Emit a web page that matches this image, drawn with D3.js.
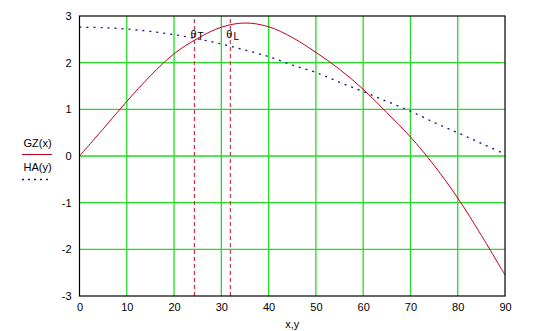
<!DOCTYPE html>
<html>
<head>
<meta charset="utf-8">
<script src="https://cdn.jsdelivr.net/npm/d3@7"></script>
<style>
  body { margin: 0; background: #fff; }
  svg { display: block; font-family: "Liberation Sans", Arial, sans-serif; }
</style>
</head>
<body>
<svg id="chart"></svg>
<script>
// angles (deg) and the two curves
const angles = [0, 5, 10, 15, 20, 25, 30, 35, 40, 45, 50, 55, 60, 65, 70, 75, 80, 85, 90];
const gz = [0, 0.58, 1.17, 1.72, 2.19, 2.52, 2.76, 2.85, 2.77, 2.54, 2.22, 1.86, 1.43, 0.93, 0.41, -0.20, -0.90, -1.70, -2.55];
const ha = [2.76, 2.75, 2.72, 2.67, 2.60, 2.51, 2.40, 2.27, 2.13, 1.95, 1.79, 1.58, 1.38, 1.17, 0.96, 0.72, 0.50, 0.27, 0.04];
const markers = [24.3, 31.9];
const markerLabels = [["θ", "T"], ["θ", "L"]];
const xTicks = [0, 10, 20, 30, 40, 50, 60, 70, 80, 90];
const yTicks = [-3, -2, -1, 0, 1, 2, 3];

const width = 534;
const height = 331;
const margin = { top: 16, right: 29, bottom: 35, left: 79.5 };

const svg = d3.select("#chart")
    .attr("width", width)
    .attr("height", height);

const xScale = d3.scaleLinear()
    .domain([0, 90])
    .range([margin.left, width - margin.right]);

const yScale = d3.scaleLinear()
    .domain([-3, 3])
    .range([height - margin.bottom, margin.top]);

// green grid
svg.append("g")
    .selectAll("line")
    .data(xTicks.slice(1, -1))
    .join("line")
    .attr("x1", d => xScale(d)).attr("x2", d => xScale(d))
    .attr("y1", yScale(-3)).attr("y2", yScale(3))
    .attr("stroke", "#22dd22")
    .attr("stroke-width", 1.3);

svg.append("g")
    .selectAll("line")
    .data(yTicks.slice(1, -1))
    .join("line")
    .attr("x1", xScale(0)).attr("x2", xScale(90))
    .attr("y1", d => yScale(d)).attr("y2", d => yScale(d))
    .attr("stroke", "#22dd22")
    .attr("stroke-width", 1.3);

// marker lines
svg.append("g")
    .selectAll("line")
    .data(markers)
    .join("line")
    .attr("x1", d => xScale(d)).attr("x2", d => xScale(d))
    .attr("y1", yScale(-3)).attr("y2", yScale(3))
    .attr("stroke", "#cc1030")
    .attr("stroke-width", 1)
    .attr("stroke-dasharray", "4,3");

const line = d3.line().curve(d3.curveCatmullRom);

// HA(y) dotted
svg.append("path")
    .attr("d", line(angles.map((a, i) => [xScale(a), yScale(ha[i])])))
    .attr("fill", "none")
    .attr("stroke", "#101080")
    .attr("stroke-width", 1.3)
    .attr("stroke-dasharray", "2,5");

// GZ(x) solid
svg.append("path")
    .attr("d", line(angles.map((a, i) => [xScale(a), yScale(gz[i])])))
    .attr("fill", "none")
    .attr("stroke", "#c00020")
    .attr("stroke-width", 1);

// marker labels
markers.forEach((m, i) => {
    const t = svg.append("text")
        .attr("x", xScale(m) - 4)
        .attr("y", yScale(2.6) + 3)
        .attr("font-size", 11)
        .attr("fill", "#000");
    t.append("tspan").text(markerLabels[i][0]);
    t.append("tspan").attr("dx", 1).attr("dy", 2).attr("font-size", 10).text(markerLabels[i][1]);
});

// frame
svg.append("rect")
    .attr("x", xScale(0)).attr("y", yScale(3))
    .attr("width", xScale(90) - xScale(0))
    .attr("height", yScale(-3) - yScale(3))
    .attr("fill", "none")
    .attr("stroke", "#000")
    .attr("stroke-width", 1.2);

// axes (labels only)
const xAxis = d3.axisBottom(xScale).tickValues(xTicks).tickSize(0).tickPadding(7);
svg.append("g")
    .attr("transform", `translate(0, ${yScale(-3)})`)
    .call(xAxis)
    .call(g => g.select(".domain").remove())
    .selectAll("text")
    .attr("font-size", 11)
    .attr("font-family", "Liberation Sans, Arial, sans-serif")
    .attr("fill", "#000");

const yAxis = d3.axisLeft(yScale).tickValues(yTicks).tickFormat(d => String(d)).tickSize(0).tickPadding(8);
svg.append("g")
    .attr("transform", `translate(${xScale(0)}, 0)`)
    .call(yAxis)
    .call(g => g.select(".domain").remove())
    .selectAll("text")
    .attr("font-size", 11)
    .attr("font-family", "Liberation Sans, Arial, sans-serif")
    .attr("fill", "#000");

// axis title
svg.append("text")
    .attr("x", (xScale(0) + xScale(90)) / 2)
    .attr("y", 328)
    .attr("text-anchor", "middle")
    .attr("font-size", 11)
    .text("x,y");

// legend
svg.append("text").attr("x", 37.5).attr("y", 147).attr("text-anchor", "middle").attr("font-size", 11).text("GZ(x)");
svg.append("line").attr("x1", 22).attr("x2", 52).attr("y1", 154.5).attr("y2", 154.5)
    .attr("stroke", "#c00020").attr("stroke-width", 1);
svg.append("text").attr("x", 37.5).attr("y", 171).attr("text-anchor", "middle").attr("font-size", 11).text("HA(y)");
svg.append("line").attr("x1", 22).attr("x2", 50).attr("y1", 179.5).attr("y2", 179.5)
    .attr("stroke", "#101080").attr("stroke-width", 1.3).attr("stroke-dasharray", "2,4");
</script>
</body>
</html>
